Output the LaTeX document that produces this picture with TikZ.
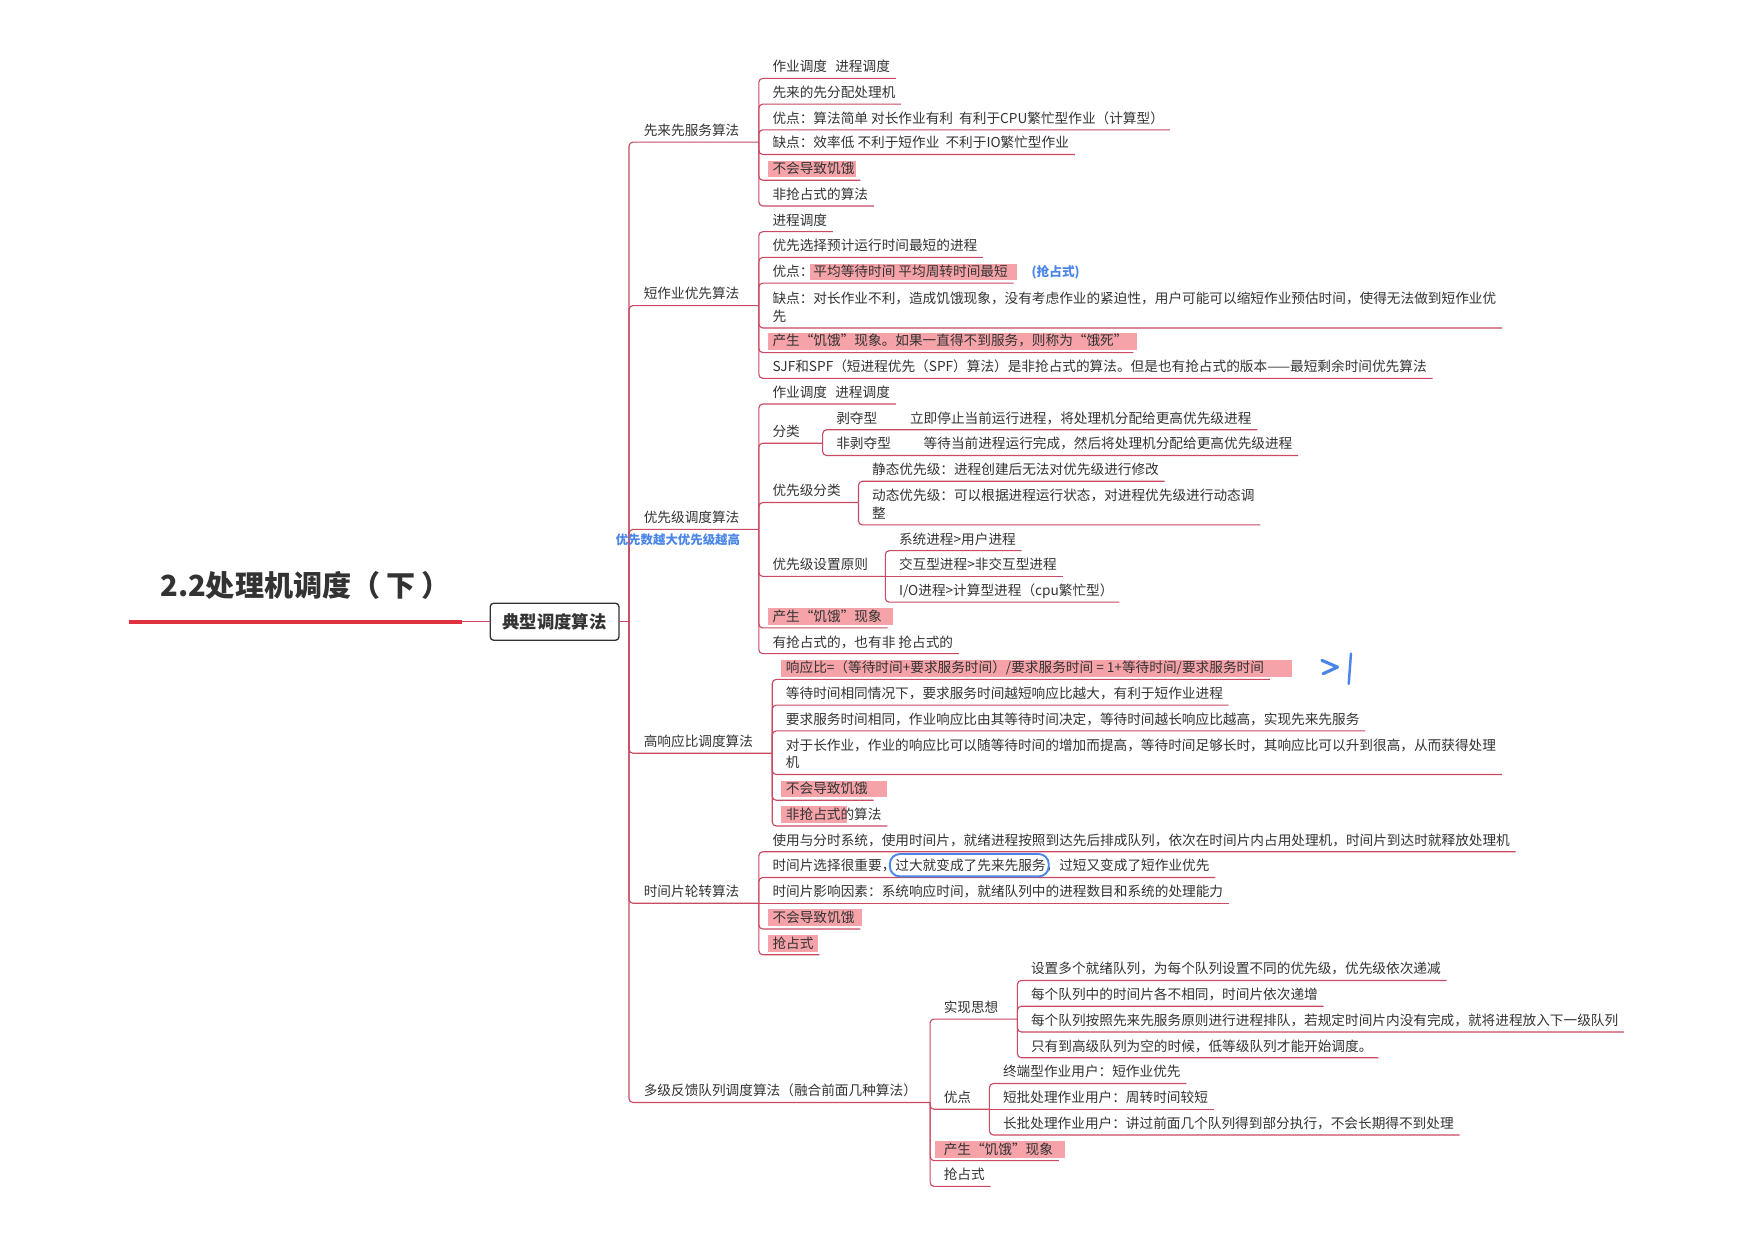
\documentclass[tikz,border=0pt]{standalone}
\usepackage{fontspec}
\setmainfont{Noto Sans CJK SC}
\usetikzlibrary{calc}
\definecolor{ln}{HTML}{C94A62}
\definecolor{tred}{HTML}{E0313F}
\definecolor{hlc}{HTML}{F5A3A9}
\definecolor{blu}{HTML}{4A86E8}
\definecolor{txt}{HTML}{333333}
\newcommand\hl[3][4pt]{{\fboxsep=0pt\hspace*{-#1}\colorbox{hlc}{\rule[-3.4pt]{0pt}{15pt}\hspace*{#1}#3\hspace*{#2}}\hspace*{-#2}}}
\newcommand\twol[2]{\vbox{\baselineskip=16pt\hbox{#1}\hbox{#2}}}
\tikzset{
  topic/.style={anchor=south west, inner sep=0pt, text height=9pt, text depth=5.7pt, text=txt, font=\fontsize{12.2pt}{16pt}\selectfont},
  conn/.style={draw=ln, line width=1pt, rounded corners=3.5pt},
  plain/.style={draw=ln, line width=1pt},
  rootbox/.style={draw=txt, line width=1.2pt, rounded corners=3pt, minimum width=115pt, minimum height=33pt, inner sep=0pt, text height=12.9pt, text depth=1.2pt, text=txt, font=\fontsize{15.5pt}{18pt}\selectfont\bfseries},
  note/.style={anchor=base west, inner sep=0pt, text=blu, font=\fontsize{11.3pt}{13pt}\selectfont\bfseries},
  scrib/.style={draw=blu, line width=2.8pt, line cap=round, line join=round}
}
\begin{document}
\begin{tikzpicture}[x=1pt,y=-1pt]
\useasboundingbox[fill=white] (0,0) rectangle (1568,1108);

% title and root
\node[anchor=base west, inner sep=0pt, text=txt, font=\fontsize{26pt}{30pt}\selectfont\bfseries] (title) at (143,533) {2.2处理机调度（\hspace{0.2em}下\hspace{0.2em}）};
\coordinate (tl1) at (115,555.5);
\coordinate (tl2) at (413,555.5);
\draw[tred, line width=4pt] (tl1) -- (tl2);
\node[rootbox] (root) at (495.5,555.5) {典型调度算法};
\coordinate (RJ) at (562,555.5);
\draw[plain] (tl2) -- (root.west);
\draw[plain] (root.east) -- (RJ);

% ---------- level 1 ----------
\node[topic] (b1) at (575,127) {先来先服务算法};
\node[topic] (b2) at (575,273) {短作业优先算法};
\node[topic] (b3) at (575,473) {优先级调度算法};
\node[topic] (b4) at (575,673) {高响应比调度算法};
\node[topic] (b5) at (575,807) {时间片轮转算法};
\node[topic] (b6) at (575,985) {多级反馈队列调度算法（融合前面几种算法）};
\coordinate (J1) at (678,127);
\coordinate (J2) at (678,273);
\coordinate (J3) at (678,473);
\coordinate (J4) at (690,673);
\coordinate (J5) at (678,807);
\coordinate (J6) at (831,985);
\foreach \j in {J1,J2,J3,J4,J5,J6} \draw[conn] (RJ) |- (\j);

% ---------- branch 1 ----------
\node[topic] (c11) at (690,70) {作业调度\hspace{0.6em}进程调度};
\node[topic] (c12) at (690,93) {先来的先分配处理机};
\node[topic] (c13) at (690,116) {优点：算法简单 对长作业有利\ \ 有利于CPU繁忙型作业（计算型）};
\node[topic] (c14) at (690,138) {缺点：效率低 不利于短作业\ \ 不利于IO繁忙型作业};
\node[topic] (c15) at (690,161) {\hl{1pt}{不会导致饥饿}};
\node[topic] (c16) at (690,184) {非抢占式的算法};
\foreach \c in {c11,c12,c13,c14,c15,c16} \draw[conn] (J1) |- ([xshift=5pt]\c.south east);

% ---------- branch 2 ----------
\node[topic] (c21) at (690,207) {进程调度};
\node[topic] (c22) at (690,230) {优先选择预计运行时间最短的进程};
\node[topic] (c23) at (690,253) {优点：\hl[3pt]{8pt}{平均等待时间 平均周转时间最短}};
\node[note] (q23) at ([xshift=21pt]c23.base east) {(抢占式)};
\node[topic] (c24) at (690,293) {\twol{缺点：对长作业不利，造成饥饿现象，没有考虑作业的紧迫性，用户可能可以缩短作业预估时间，使得无法做到短作业优}{先}};
\node[topic] (c25) at (690,315) {\hl{8pt}{产生“饥饿”现象。如果一直得不到服务，则称为“饿死”}};
\node[topic] (c26) at (690,338) {SJF和SPF（短进程优先（SPF）算法）是非抢占式的算法。但是也有抢占式的版本——最短剩余时间优先算法};
\foreach \c in {c21,c22,c23,c24,c25,c26} \draw[conn] (J2) |- ([xshift=5pt]\c.south east);

% ---------- branch 3 ----------
\node[topic] (c31) at (690,361) {作业调度\hspace{0.6em}进程调度};
\node[topic] (c32) at (690,396) {分类};
\node[topic] (c33) at (690,449) {优先级分类};
\node[topic] (c34) at (690,515) {优先级设置原则};
\node[topic] (c35) at (690,561) {\hl{10pt}{产生“饥饿”现象}};
\node[topic] (c36) at (690,584) {有抢占式的，也有非 抢占式的};
\coordinate (J32) at (735,396);
\coordinate (J33) at (767,449);
\coordinate (J34) at (791,515);
\foreach \c in {c31,c35,c36} \draw[conn] (J3) |- ([xshift=5pt]\c.south east);
\foreach \j in {J32,J33,J34} \draw[conn] (J3) |- (\j);

\node[topic] (c321) at (747,384) {剥夺型\hspace{2.4em}立即停止当前运行进程，将处理机分配给更高优先级进程};
\node[topic] (c322) at (747,407) {非剥夺型\hspace{2.4em}等待当前进程运行完成，然后将处理机分配给更高优先级进程};
\foreach \c in {c321,c322} \draw[conn] (J32) |- ([xshift=5pt]\c.south east);

\node[topic] (c331) at (779,430) {静态优先级：进程创建后无法对优先级进行修改};
\node[topic] (c332) at (779,469) {\twol{动态优先级：可以根据进程运行状态，对进程优先级进行动态调}{整}};
\foreach \c in {c331,c332} \draw[conn] (J33) |- ([xshift=5pt]\c.south east);

\node[topic] (c341) at (803,492) {系统进程>用户进程};
\node[topic] (c342) at (803,515) {交互型进程>非交互型进程};
\node[topic] (c343) at (803,538) {I/O进程>计算型进程（cpu繁忙型）};
\foreach \c in {c341,c343} \draw[conn] (J34) |- ([xshift=5pt]\c.south east);
\draw[plain] (J34) -- ([xshift=5pt]c342.south east);

% ---------- branch 4 ----------
\node[topic] (c41) at (702,607) {\hl{25pt}{响应比=（等待时间+要求服务时间）/要求服务时间 = 1+等待时间/要求服务时间}};
\node[topic] (c42) at (702,630) {等待时间相同情况下，要求服务时间越短响应比越大，有利于短作业进程};
\node[topic] (c43) at (702,653) {要求服务时间相同，作业响应比由其等待时间决定，等待时间越长响应比越高，实现先来先服务};
\node[topic] (c44) at (702,692) {\twol{对于长作业，作业的响应比可以随等待时间的增加而提高，等待时间足够长时，其响应比可以升到很高，从而获得处理}{机}};
\node[topic] (c45) at (702,715) {\hl{17pt}{不会导致饥饿}};
\node[topic] (c46) at (702,738) {\hl{6pt}{非抢占式}的算法};
\foreach \c in {c41,c42,c43,c44,c45,c46} \draw[conn] (J4) |- ([xshift=5pt]\c.south east);

% ---------- branch 5 ----------
\node[topic] (c51) at (690,761) {使用与分时系统，使用时间片，就绪进程按照到达先后排成队列，依次在时间片内占用处理机，时间片到达时就释放处理机};
\node[topic] (c52) at (690,784) {时间片选择很重要，过大就变成了先来先服务，过短又变成了短作业优先};
\node[topic] (c53) at (690,807) {时间片影响因素：系统响应时间，就绪队列中的进程数目和系统的处理能力};
\node[topic] (c54) at (690,830) {\hl{7pt}{不会导致饥饿}};
\node[topic] (c55) at (690,853) {\hl{4pt}{抢占式}};
\foreach \c in {c51,c52,c54,c55} \draw[conn] (J5) |- ([xshift=5pt]\c.south east);
\draw[plain] (J5) -- ([xshift=5pt]c53.south east);

% ---------- branch 6 ----------
\node[topic] (c61) at (843,910.5) {实现思想};
\node[topic] (c62) at (843,991) {优点};
\node[topic] (c63) at (843,1037) {\hl[8pt]{11pt}{产生“饥饿”现象}};
\node[topic] (c64) at (843,1060) {抢占式};
\coordinate (J61) at (909,910.5);
\coordinate (J62) at (884,991);
\foreach \j in {J61,J62} \draw[conn] (J6) |- (\j);
\foreach \c in {c63,c64} \draw[conn] (J6) |- ([xshift=5pt]\c.south east);

\node[topic] (c611) at (921,876) {设置多个就绪队列，为每个队列设置不同的优先级，优先级依次递减};
\node[topic] (c612) at (921,899) {每个队列中的时间片各不相同，时间片依次递增};
\node[topic] (c613) at (921,922) {每个队列按照先来先服务原则进行进程排队，若规定时间片内没有完成，就将进程放入下一级队列};
\node[topic] (c614) at (921,945) {只有到高级队列为空的时候，低等级队列才能开始调度。};
\foreach \c in {c611,c612,c613,c614} \draw[conn] (J61) |- ([xshift=5pt]\c.south east);

\node[topic] (c621) at (896,968) {终端型作业用户：短作业优先};
\node[topic] (c622) at (896,991) {短批处理作业用户：周转时间较短};
\node[topic] (c623) at (896,1014) {长批处理作业用户：讲过前面几个队列得到部分执行，不会长期得不到处理};
\foreach \c in {c621,c623} \draw[conn] (J62) |- ([xshift=5pt]\c.south east);
\draw[plain] (J62) -- ([xshift=5pt]c622.south east);

% ---------- blue annotations ----------
\node[note, font=\fontsize{11.1pt}{13pt}\selectfont\bfseries] (n3) at (550,486.2) {优先数越大优先级越高};
\draw[draw=blu, line width=1.7pt, rounded corners=9pt] ([shift={(105,-1)}]c52.south west) rectangle ([shift={(247,-21)}]c52.south west);
\draw[scrib] ([shift={(479,-17)}]c41.south west) -- ([shift={(493,-11)}]c41.south west) -- ([shift={(480,-5)}]c41.south west);
\draw[scrib, line width=2.2pt] ([shift={(505,-23)}]c41.south west) -- ([shift={(503,4)}]c41.south west);
\end{tikzpicture}
\end{document}
